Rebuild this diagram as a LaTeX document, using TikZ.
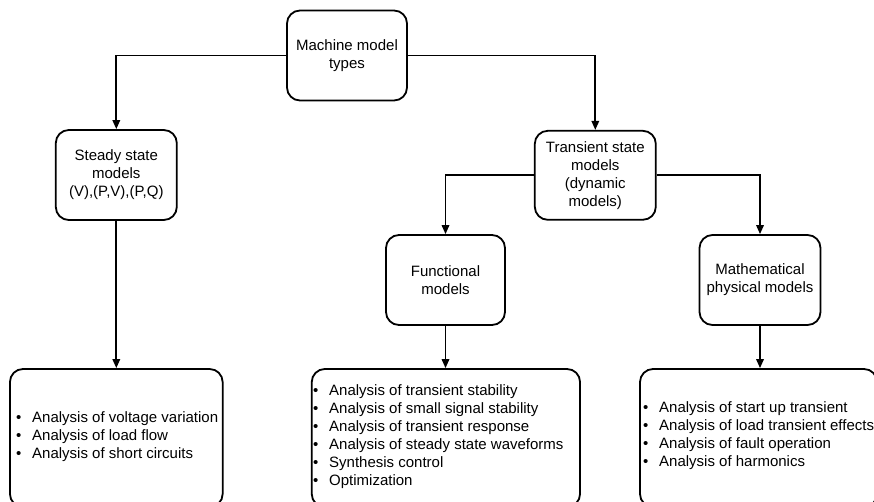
\documentclass[tikz,border=0pt]{standalone}
\usepackage{fontspec}
\setmainfont{Liberation Sans}
\usetikzlibrary{arrows.meta}
\tikzset{
  box/.style={draw=black, line width=1.8pt, rounded corners=13pt, inner sep=0pt,
              align=center, font=\fontsize{15}{18}\selectfont},
  list/.style={anchor=west, inner sep=0pt, align=left, font=\fontsize{15}{18}\selectfont},
  arr/.style={line width=1.7pt, -{Triangle[length=9pt,width=7.5pt]}}
}
\newcommand{\itm}{\makebox[16pt][l]{\textbullet}}
\begin{document}
\begin{tikzpicture}[x=1pt,y=-1pt]
\useasboundingbox (0,0) rectangle (874,501);
\clip (0,0) rectangle (874,501);
% upper tiers of the hierarchy
\node[box, minimum width=120pt, minimum height=90pt] (top) at (347,55.5) {Machine model\\types};
\node[box, minimum width=121pt, minimum height=90pt] (steady) at (116.3,175) {Steady state\\models\\(V),(P,V),(P,Q)};
\node[box, minimum width=121pt, minimum height=89pt] (trans) at (595.3,175.3) {Transient state\\models\\(dynamic\\models)};
\node[box, minimum width=119pt, minimum height=90pt] (func) at (445.5,280) {Functional\\models};
\node[box, minimum width=121pt, minimum height=90pt] (math) at (760,280) {Mathematical\\physical models};
% application boxes
\node[box, minimum width=212.7pt, minimum height=138pt] (bl) at (116.3,438) {};
\node[box, minimum width=268.3pt, minimum height=138pt] (bm) at (445.9,438) {};
\node[box, minimum width=237pt, minimum height=138pt] (br) at (758.5,438) {};
\node[list] (bltext) at (16,437) {\itm Analysis of voltage variation\\\itm Analysis of load flow\\\itm Analysis of short circuits};
\node[list] (bmtext) at (313,436.4) {\itm Analysis of transient stability\\\itm Analysis of small signal stability\\\itm Analysis of transient response\\\itm Analysis of steady state waveforms\\\itm Synthesis control\\\itm Optimization};
\node[list] (brtext) at (643,436) {\itm Analysis of start up transient\\\itm Analysis of load transient effects\\\itm Analysis of fault operation\\\itm Analysis of harmonics};
% connectors
\draw[arr] (top.west) -| (steady.north);
\draw[arr] (top.east) -| (trans.north);
\draw[arr] (trans.west) -| (func.north);
\draw[arr] (trans.east) -| (math.north);
\draw[arr] (steady.south) -- (steady.south |- bl.north);
\draw[arr] (func.south) -- (func.south |- bm.north);
\draw[arr] (math.south) -- (math.south |- br.north);
\end{tikzpicture}
\end{document}
